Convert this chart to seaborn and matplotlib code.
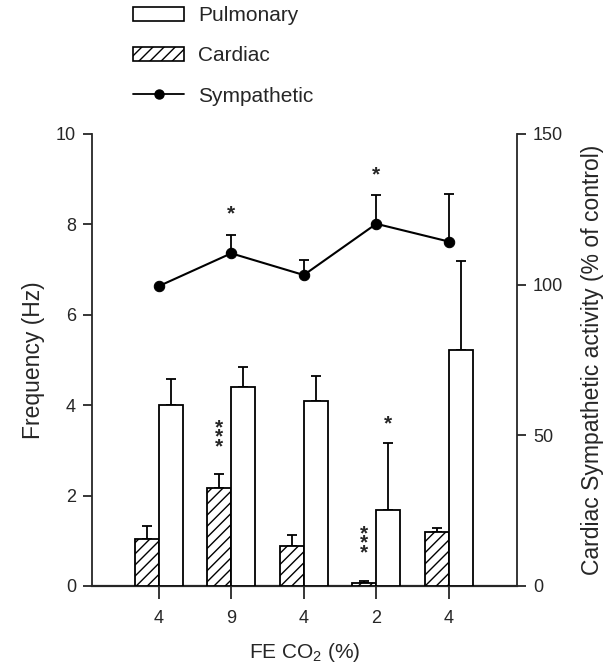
import numpy as np
import pandas as pd
import matplotlib
matplotlib.use("Agg")
import matplotlib.pyplot as plt
import seaborn as sns
from matplotlib.transforms import ScaledTranslation
from matplotlib.patches import Patch
from matplotlib.lines import Line2D

# ---- data ----
conditions = ["4", "9", "4", "2", "4"]
cardiac = [1.03, 2.17, 0.88, 0.06, 1.19]
cardiac_err = [0.29, 0.30, 0.24, 0.04, 0.10]
pulmonary = [4.00, 4.40, 4.10, 1.69, 5.22]
pulmonary_err = [0.59, 0.45, 0.54, 1.47, 1.97]
sympathetic = [99.5, 110.4, 103.2, 120.2, 114.3]
sympathetic_err = [0.0, 6.1, 5.0, 9.4, 15.7]
# significance marks: (condition index, series, mark, value of top star)
sig_left = [(1, "Cardiac", "*\n*\n*", 3.22), (3, "Cardiac", "*\n*\n*", 0.88),
            (3, "Pulmonary", "*", 3.73)]
sig_right = [(1, "*", 125.7), (3, "*", 138.5)]

sns.set_style("ticks")
plt.rcParams["font.family"] = ["Liberation Sans", "DejaVu Sans"]
plt.rcParams["mathtext.default"] = "regular"
plt.rcParams["hatch.linewidth"] = 1.0

fig = plt.figure(figsize=(6.09, 6.68), dpi=100)
ax = fig.add_axes([92 / 609, 1 - 586 / 668, (517 - 92) / 609, (586 - 134) / 668])

ids = [f"c{i}" for i in range(len(conditions))]
df = pd.DataFrame({
    "cond": ids * 2,
    "series": ["Cardiac"] * len(ids) + ["Pulmonary"] * len(ids),
    "value": cardiac + pulmonary,
})
sns.barplot(data=df, x="cond", y="value", hue="series", order=ids,
            hue_order=["Cardiac", "Pulmonary"],
            palette={"Cardiac": "white", "Pulmonary": "white"},
            edgecolor="black", linewidth=1.3, width=0.66, errorbar=None,
            legend=False, ax=ax, zorder=3)

card_bars = ax.containers[0]
pulm_bars = ax.containers[1]
for b in card_bars:
    b.set_hatch("///")

def centers(container):
    return [b.get_x() + b.get_width() / 2 for b in container]

cx = centers(card_bars)
px = centers(pulm_bars)
ax.errorbar(cx, cardiac, yerr=[np.zeros(5), cardiac_err], fmt="none",
            ecolor="black", elinewidth=1.3, capsize=3.3, capthick=1.3, zorder=2)
ax.errorbar(px, pulmonary, yerr=[np.zeros(5), pulmonary_err], fmt="none",
            ecolor="black", elinewidth=1.3, capsize=3.3, capthick=1.3, zorder=2)

ax.set_ylim(0, 10)
ax.set_yticks([0, 2, 4, 6, 8, 10])
ax.set_xlim(-0.92, 4.94)
ax.set_xticks(range(len(conditions)))
ax.set_xticklabels(conditions)
ax.set_xlabel(r"FE CO$_2$ (%)", fontsize=15, labelpad=10)
ax.set_ylabel("Frequency (Hz)", fontsize=16.5, labelpad=8)
ax.tick_params(axis="x", direction="out", length=9, width=1.3, labelsize=13, pad=8)
ax.tick_params(axis="y", direction="out", length=6.5, width=1.3, labelsize=13, pad=5)
for s in ["top", "right"]:
    ax.spines[s].set_visible(False)
ax.spines["left"].set_linewidth(1.3)
ax.spines["bottom"].set_linewidth(1.6)

# significance stars
fs_star = 15
off = ScaledTranslation(0, -0.57 * fs_star / 72, fig.dpi_scale_trans)
for i, ser, mark, v in sig_left:
    xs = cx[i] if ser == "Cardiac" else px[i]
    ax.text(xs, v, mark, ha="center", va="baseline", fontsize=fs_star,
            fontweight="bold", linespacing=0.37, transform=ax.transData + off,
            zorder=5)

# sympathetic on right axis
ax2 = ax.twinx()
xpos = np.arange(len(conditions))
sns.lineplot(x=xpos, y=sympathetic, ax=ax2, color="black", marker="o",
             markersize=7.5, markeredgecolor="black", linewidth=1.5, zorder=4)
mask = np.array(sympathetic_err) > 0
ax2.errorbar(xpos[mask], np.array(sympathetic)[mask],
             yerr=[np.zeros(mask.sum()), np.array(sympathetic_err)[mask]],
             fmt="none", ecolor="black", elinewidth=1.3, capsize=3.3, capthick=1.3)
for i, mark, v in sig_right:
    ax2.text(xpos[i], v, mark, ha="center", va="baseline", fontsize=fs_star,
             fontweight="bold", transform=ax2.transData + off)
ax2.set_ylim(0, 150)
ax2.set_yticks([0, 50, 100, 150])
ax2.set_ylabel("Cardiac Sympathetic activity (% of control)", fontsize=16.5,
               labelpad=13, rotation=90)
ax2.tick_params(axis="y", direction="out", length=6.5, width=1.3, labelsize=13, pad=5)
for s in ["top", "left", "bottom"]:
    ax2.spines[s].set_visible(False)
ax2.spines["right"].set_visible(True)
ax2.spines["right"].set_linewidth(1.3)
ax2.set_xlim(-0.92, 4.94)

# legend
handles = [
    Patch(facecolor="white", edgecolor="black", linewidth=1.2),
    Patch(facecolor="white", edgecolor="black", linewidth=1.2, hatch="///"),
    Line2D([0], [0], color="black", marker="o", markersize=6.5, linewidth=1.3),
]
fig.legend(handles, ["Pulmonary", "Cardiac", "Sympathetic"],
           loc="upper left", bbox_to_anchor=(133 / 609, 1 - 6 / 668),
           frameon=False, fontsize=15, handlelength=2.45, handleheight=0.64,
           handletextpad=0.67, labelspacing=1.02, borderpad=0, borderaxespad=0)

fig.savefig("out.png", dpi=100)
